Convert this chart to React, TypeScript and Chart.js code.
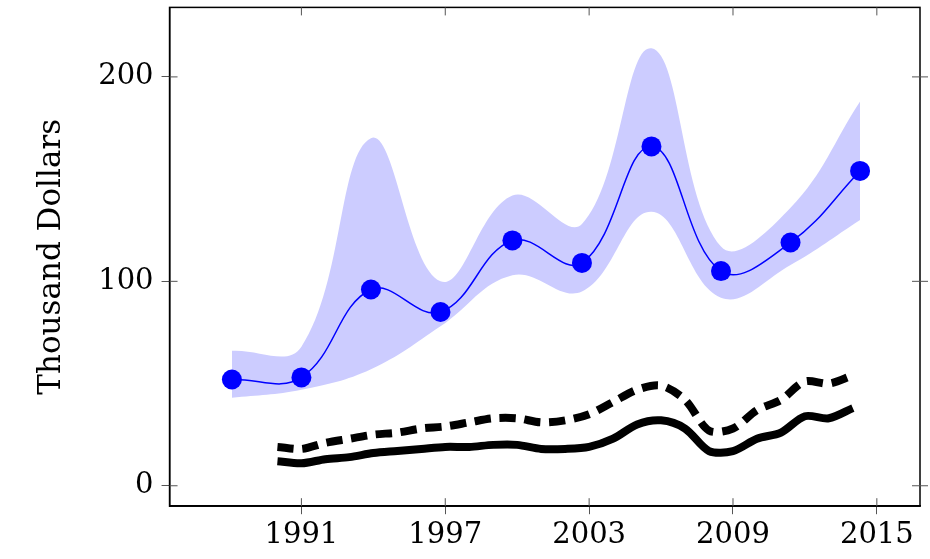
import { useEffect, useRef } from "react";
import { Chart, registerables } from "chart.js";

Chart.register(...registerables);

const meanYears = [1988.1, 1991, 1993.9, 1996.8, 1999.8, 2002.7, 2005.6, 2008.5, 2011.4, 2014.3];
const meanValues = [52, 53, 96, 85, 120, 109, 166, 105, 119, 154];
const upperValues = [66, 68, 170, 100, 142, 128, 214, 117, 136, 188];
const lowerValues = [43, 47, 57, 78, 103, 95, 134, 92, 108, 130];

const yearlyYears = [1990, 1991, 1992, 1993, 1994, 1995, 1996, 1997, 1998, 1999, 2000, 2001, 2002, 2003, 2004, 2005, 2006, 2007, 2008, 2009, 2010, 2011, 2012, 2013, 2014];
const solidValues = [12, 11, 13, 14, 16, 17, 18, 19, 19, 20, 20, 18, 18, 19, 23, 30, 32, 28, 17, 17, 23, 26, 34, 33, 38];
const dashedValues = [19, 18, 21, 23, 25, 26, 28, 29, 31, 33, 33, 31, 32, 35, 41, 47, 49, 42, 27, 28, 37, 42, 51, 50, 54];

const xTicks = [1991, 1997, 2003, 2009, 2015];
const yTicks = [0, 100, 200];

const pts = (xs: number[], ys: number[]) => xs.map((x, i) => ({ x, y: ys[i] }));

export default function App() {
  const canvasRef = useRef<HTMLCanvasElement | null>(null);

  useEffect(() => {
    if (!canvasRef.current) return;
    const font = { family: "'DejaVu Serif', serif", size: 29 };
    const chart = new Chart(canvasRef.current, {
      type: "line",
      data: {
        datasets: [
          { data: pts(meanYears, upperValues), borderWidth: 0, pointRadius: 0, tension: 0.4, fill: "+1", backgroundColor: "rgb(204,204,255)" },
          { data: pts(meanYears, lowerValues), borderWidth: 0, pointRadius: 0, tension: 0.4, fill: false },
          { data: pts(meanYears, meanValues), borderColor: "rgb(0,0,255)", borderWidth: 1.5, pointRadius: 10, pointBackgroundColor: "rgb(0,0,255)", pointBorderWidth: 0, tension: 0.4, fill: false },
          { data: pts(yearlyYears, dashedValues), borderColor: "#000", borderWidth: 8, borderDash: [16, 9], pointRadius: 0, tension: 0.3, fill: false },
          { data: pts(yearlyYears, solidValues), borderColor: "#000", borderWidth: 8, pointRadius: 0, tension: 0.3, fill: false },
        ],
      },
      options: {
        responsive: false,
        animation: false,
        layout: { padding: { top: 0, right: 9, bottom: 2, left: 29 } },
        plugins: { legend: { display: false }, tooltip: { enabled: false }, filler: { drawTime: "beforeDatasetsDraw" } },
        scales: {
          x: {
            type: "linear",
            min: 1985.5,
            max: 2016.8,
            afterBuildTicks: (axis) => { axis.ticks = xTicks.map((v) => ({ value: v })); },
            ticks: { font, color: "#000", padding: 4, maxRotation: 0, callback: (v) => String(v) },
            grid: { drawOnChartArea: false, tickLength: 8, color: "#555" },
            border: { color: "#000", width: 1.5 },
          },
          y: {
            min: -10,
            max: 234,
            afterBuildTicks: (axis) => { axis.ticks = yTicks.map((v) => ({ value: v })); },
            ticks: { font, color: "#000", padding: 8 },
            grid: { drawOnChartArea: false, tickLength: 8, color: "#555" },
            border: { color: "#000", width: 1.5 },
            title: { display: true, text: "Thousand Dollars", font: { family: "'DejaVu Serif', serif", size: 31 }, color: "#000", padding: { bottom: 20 } },
          },
        },
      },
      plugins: [
        {
          id: "frame",
          afterDraw: (c) => {
            const { ctx, chartArea: a } = c;
            ctx.save();
            ctx.strokeStyle = "#000";
            ctx.lineWidth = 1.5;
            ctx.strokeRect(a.left, a.top, a.right - a.left, a.bottom - a.top);
            ctx.strokeStyle = "#555";
            ctx.lineWidth = 1;
            for (const v of xTicks) {
              const x = c.scales.x.getPixelForValue(v);
              ctx.beginPath(); ctx.moveTo(x, a.top); ctx.lineTo(x, a.top + 8); ctx.stroke();
              ctx.beginPath(); ctx.moveTo(x, a.bottom); ctx.lineTo(x, a.bottom - 8); ctx.stroke();
            }
            for (const v of yTicks) {
              const y = c.scales.y.getPixelForValue(v);
              ctx.beginPath(); ctx.moveTo(a.right - 8, y); ctx.lineTo(a.right + 8, y); ctx.stroke();
              ctx.beginPath(); ctx.moveTo(a.left, y); ctx.lineTo(a.left + 8, y); ctx.stroke();
            }
            ctx.restore();
          },
        },
      ],
    });
    return () => chart.destroy();
  }, []);

  return (
    <div style={{ position: "absolute", left: 0, top: 0, width: 930, height: 559, background: "#fff", overflow: "hidden" }}>
      <canvas ref={canvasRef} width={930} height={577} style={{ position: "absolute", left: 0, top: -18 }} />
    </div>
  );
}
